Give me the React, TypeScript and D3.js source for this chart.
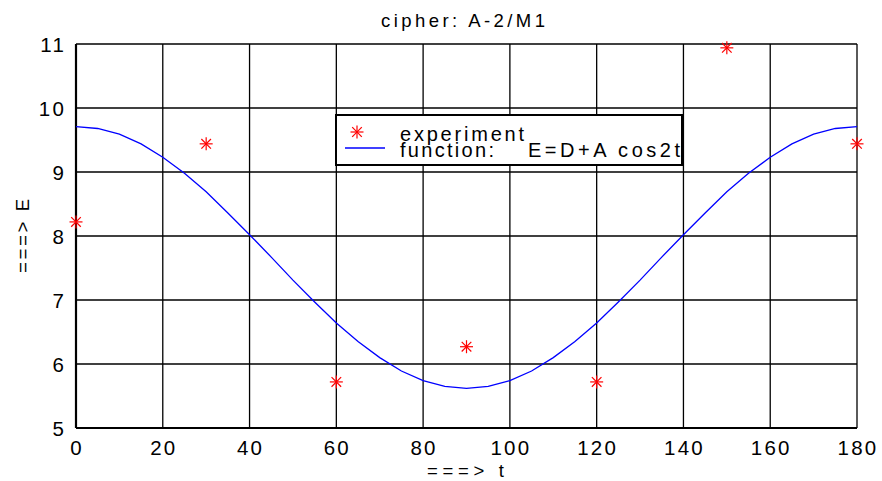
import React from 'react';
import * as d3 from 'd3';

// measured experiment points
const expT = [0, 30, 60, 90, 120, 150, 180];
const expE = [8.22, 9.44, 5.72, 6.27, 5.72, 10.94, 9.44];

// fitted curve every 5 degrees
const fitT = [0, 5, 10, 15, 20, 25, 30, 35, 40, 45, 50, 55, 60, 65, 70, 75, 80, 85, 90,
  95, 100, 105, 110, 115, 120, 125, 130, 135, 140, 145, 150, 155, 160, 165, 170, 175, 180];
const fitE = [9.71, 9.68, 9.59, 9.44, 9.23, 8.98, 8.69, 8.36, 8.02, 7.67, 7.31, 6.97, 6.64,
  6.35, 6.10, 5.89, 5.74, 5.65, 5.62, 5.65, 5.74, 5.89, 6.10, 6.35, 6.64, 6.97, 7.31,
  7.67, 8.02, 8.36, 8.69, 8.98, 9.23, 9.44, 9.59, 9.68, 9.71];

const xTicks = [0, 20, 40, 60, 80, 100, 120, 140, 160, 180];
const yTicks = [5, 6, 7, 8, 9, 10, 11];

const W = 882;
const H = 481;
const left = 76, right = 857, top = 44, bottom = 428;

const font = 'Liberation Sans, Arial, Helvetica, sans-serif';

function Star({ x, y }: { x: number; y: number }) {
  const a = 6.5, b = 4.8;
  return (
    <g stroke="#ff0000" strokeWidth={1.2}>
      <line x1={x - a} y1={y} x2={x + a} y2={y} />
      <line x1={x} y1={y - a} x2={x} y2={y + a} />
      <line x1={x - b} y1={y - b} x2={x + b} y2={y + b} />
      <line x1={x - b} y1={y + b} x2={x + b} y2={y - b} />
    </g>
  );
}

export default function App() {
  const x = d3.scaleLinear().domain([0, 180]).range([left, right]);
  const y = d3.scaleLinear().domain([5, 11]).range([bottom, top]);

  const line = d3.line<number>()
    .x((_, i) => x(fitT[i]))
    .y((d) => y(d));

  return (
    <svg width={W} height={H} style={{ position: 'absolute', left: 0, top: 0, background: '#fff' }}
      fontFamily={font}>
      <rect width={W} height={H} fill="#fff" />
      {/* grid */}
      {xTicks.map((t) => (
        <line key={'gx' + t} x1={x(t)} x2={x(t)} y1={top} y2={bottom} stroke="#000" strokeWidth={1.3} />
      ))}
      {yTicks.map((t) => (
        <line key={'gy' + t} x1={left} x2={right} y1={y(t)} y2={y(t)} stroke="#000" strokeWidth={1.3} />
      ))}
      {/* axes box */}
      <line x1={left} x2={left} y1={top} y2={bottom} stroke="#000" strokeWidth={2.2} />
      <line x1={left} x2={right} y1={bottom} y2={bottom} stroke="#000" strokeWidth={2.2} />

      {/* fitted curve */}
      <path d={line(fitE) || ''} fill="none" stroke="#0000ff" strokeWidth={1.3} />

      {/* experiment points */}
      {expT.map((t, i) => (
        <Star key={'s' + t} x={x(t)} y={y(expE[i])} />
      ))}

      {/* tick labels */}
      {xTicks.map((t) => (
        <text key={'tx' + t} x={x(t) + 1} y={455} fontSize={20.5} letterSpacing={2.2} textAnchor="middle">
          {t}
        </text>
      ))}
      {yTicks.map((t) => (
        <text key={'ty' + t} x={66} y={y(t) + 7.5} fontSize={20.5} letterSpacing={2.2} textAnchor="end">
          {t}
        </text>
      ))}

      {/* legend */}
      <rect x={336} y={115} width={346} height={50} fill="#fff" stroke="#000" strokeWidth={2} />
      <Star x={357} y={132} />
      <line x1={345} x2={385} y1={148} y2={148} stroke="#0000ff" strokeWidth={1.3} />
      <text x={400} y={141} fontSize={20} textLength={124} lengthAdjust="spacing">experiment</text>
      <text x={400} y={157} fontSize={20} textLength={94} lengthAdjust="spacing">function:</text>
      <text x={528} y={157} fontSize={20} textLength={152} lengthAdjust="spacing">E=D+A cos2t</text>

      {/* titles */}
      <text x={381} y={27} fontSize={18.5} textLength={164} lengthAdjust="spacing">cipher: A-2/M1</text>
      <text x={427} y={477} fontSize={18.5} textLength={77} lengthAdjust="spacing">===&gt; t</text>
      <text transform="translate(29,273) rotate(-90)" fontSize={18.5} textLength={74} lengthAdjust="spacing">
        ===&gt; E
      </text>
    </svg>
  );
}
